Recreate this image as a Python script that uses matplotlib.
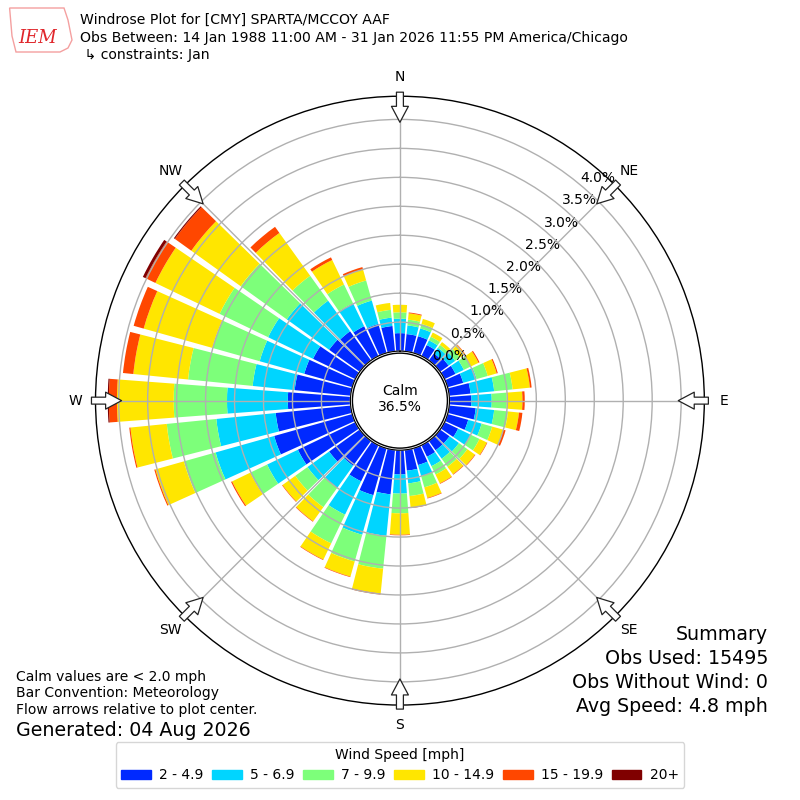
import numpy as np
import matplotlib
matplotlib.use("Agg")
import matplotlib.pyplot as plt
from matplotlib.patches import Circle, Patch, Polygon

# wind direction bins (deg, direction wind is coming from)
directions = np.arange(0, 360, 10)

speed_labels = ["2 - 4.9", "5 - 6.9", "7 - 9.9", "10 - 14.9", "15 - 19.9", "20+"]

# cumulative frequency (%) at the top of each speed bin, one value per direction
top_2 = [0.31, 0.30, 0.30, 0.21, 0.15, 0.18, 0.21, 0.28, 0.37, 0.38, 0.46, 0.37,
         0.26, 0.20, 0.20, 0.22, 0.30, 0.36, 0.42, 0.77, 0.84, 0.69, 0.53, 0.65,
         1.10, 1.40, 1.30, 1.08, 0.97, 0.86, 0.81, 0.65, 0.62, 0.57, 0.52, 0.44]
top_5 = [0.56, 0.45, 0.44, 0.30, 0.27, 0.32, 0.37, 0.52, 0.78, 0.73, 0.78, 0.61,
         0.50, 0.40, 0.38, 0.40, 0.50, 0.58, 0.75, 1.49, 1.55, 1.33, 1.00, 1.11,
         1.69, 2.45, 2.33, 2.13, 1.70, 1.66, 1.67, 1.55, 1.27, 1.01, 0.94, 0.585]
top_7 = [0.67, 0.55, 0.52, 0.37, 0.33, 0.42, 0.50, 0.72, 1.10, 0.99, 1.02, 0.80,
         0.67, 0.58, 0.55, 0.56, 0.70, 0.80, 1.09, 2.06, 2.03, 1.88, 1.41, 1.37,
         2.01, 3.02, 3.19, 3.05, 2.82, 2.51, 2.60, 2.53, 1.80, 1.37, 1.30, 0.72]
top_10 = [0.80, 0.66, 0.61, 0.45, 0.39, 0.52, 0.65, 0.88, 1.40, 1.26, 1.21, 1.00,
          0.81, 0.74, 0.71, 0.73, 0.89, 1.00, 1.46, 2.49, 2.30, 2.19, 1.71, 1.64,
          2.36, 3.53, 3.82, 4.03, 3.77, 3.74, 3.83, 3.58, 2.71, 1.84, 1.50, 0.84]
top_15 = [0.80, 0.675, 0.61, 0.45, 0.39, 0.53, 0.67, 0.90, 1.43, 1.30, 1.27, 1.04,
          0.82, 0.75, 0.72, 0.74, 0.90, 1.01, 1.47, 2.51, 2.31, 2.20, 1.72, 1.65,
          2.38, 3.55, 3.84, 4.17, 3.95, 3.92, 4.02, 3.93, 2.84, 1.89, 1.54, 0.84]
top_20 = [0.80, 0.675, 0.61, 0.45, 0.39, 0.53, 0.67, 0.90, 1.43, 1.30, 1.27, 1.04,
          0.82, 0.75, 0.72, 0.74, 0.90, 1.01, 1.47, 2.51, 2.31, 2.20, 1.72, 1.65,
          2.38, 3.55, 3.84, 4.19, 3.95, 3.92, 4.07, 3.95, 2.84, 1.89, 1.54, 0.84]

calm_pct = 36.5
ring_values = [0.0, 0.5, 1.0, 1.5, 2.0, 2.5, 3.0, 3.5, 4.0]

tops = [top_2, top_5, top_7, top_10, top_15, top_20]
colors = plt.cm.jet(np.linspace(0, 1, 7))[1:]

fig = plt.figure(figsize=(8, 8), dpi=100)
ax = fig.add_axes([0.1194, 0.1187, 0.761, 0.761], projection="polar")
ax.set_theta_zero_location("N")
ax.set_theta_direction(-1)
ax.set_rorigin(-0.855)
ax.set_rlim(0, 4.40)

theta = np.deg2rad(directions)
bottom = np.zeros(len(directions))
for top, color in zip(tops, colors):
    top = np.array(top)
    ax.bar(theta, top - bottom, bottom=bottom, width=np.deg2rad(8.6),
           color=color, linewidth=0)
    bottom = top

# grid
ax.set_rgrids(ring_values, labels=["%.1f%%" % v for v in ring_values],
              angle=40, fontsize=10)
ax.set_xticks(np.deg2rad(np.arange(0, 360, 45)))
ax.set_xticklabels([])
ax.grid(True, color="#b0b0b0", lw=1)
ax.spines["polar"].set_linewidth(1)

# compass labels + inward flow arrows
for ang, lab in zip(range(0, 360, 45), ["N", "NE", "E", "SE", "S", "SW", "W", "NW"]):
    ax.text(np.deg2rad(ang), 4.74, lab, ha="center", va="center", fontsize=10)
    ax.annotate("", xy=(np.deg2rad(ang), 3.95), xytext=(np.deg2rad(ang), 4.47),
                arrowprops=dict(arrowstyle="simple,head_length=1.15,head_width=1.22,tail_width=0.5",
                                fc="white", ec="#222222", lw=0.9, mutation_scale=10,
                                shrinkA=0, shrinkB=0),
                annotation_clip=False, zorder=6)

# calm circle in the middle
ax.add_patch(Circle((0.5, 0.5), 47.5 / 609, transform=ax.transAxes, fc="white",
                    ec="black", lw=1, zorder=5, clip_on=False))
ax.text(0.5, 0.503, "Calm\n%.1f%%" % calm_pct, transform=ax.transAxes, ha="center",
        va="center", fontsize=10, zorder=6)

# header
fig.text(0.1, 1 - 20 / 800, "Windrose Plot for [CMY] SPARTA/MCCOY AAF", fontsize=10.1, va="center")
fig.text(0.1, 1 - 38 / 800, "Obs Between: 14 Jan 1988 11:00 AM - 31 Jan 2026 11:55 PM America/Chicago",
         fontsize=10.1, va="center")
fig.text(0.1, 1 - 55 / 800, " \u21b3 constraints: Jan", fontsize=10.1, va="center")

# crude IEM logo
logo = Polygon([[0.012, 0.99], [0.08, 0.99], [0.085, 0.975], [0.09, 0.95], [0.085, 0.94],
                [0.075, 0.935], [0.02, 0.935], [0.015, 0.955]], closed=True,
               transform=fig.transFigure, fc="none", ec="#f4a0a0", lw=1)
fig.add_artist(logo)
fig.text(0.047, 1 - 38 / 800, "IEM", fontsize=13, color="#e0262b", style="italic",
         family="serif", ha="center", va="center")

# footer notes
fig.text(0.02, 1 - 677 / 800, "Calm values are < 2.0 mph", fontsize=10, va="center")
fig.text(0.02, 1 - 693 / 800, "Bar Convention: Meteorology", fontsize=10, va="center")
fig.text(0.02, 1 - 710 / 800, "Flow arrows relative to plot center.", fontsize=10, va="center")
fig.text(0.02, 1 - 730 / 800, "Generated: 04 Aug 2026", fontsize=13.7, va="center")

summary = ["Summary", "Obs Used: 15495", "Obs Without Wind: 0", "Avg Speed: 4.8 mph"]
for i, line in enumerate(summary):
    fig.text(0.96, 1 - (635 + 23.7 * i) / 800, line, fontsize=13.7, ha="right", va="center")

handles = [Patch(color=c) for c in colors]
fig.legend(handles, speed_labels, loc="center", bbox_to_anchor=(0.5, 1 - 765 / 800),
           ncol=6, title="Wind Speed [mph]", fontsize=10, title_fontsize=10,
           handlelength=2.15, handletextpad=0.6, columnspacing=0.6)

fig.savefig("out.png", dpi=100)
